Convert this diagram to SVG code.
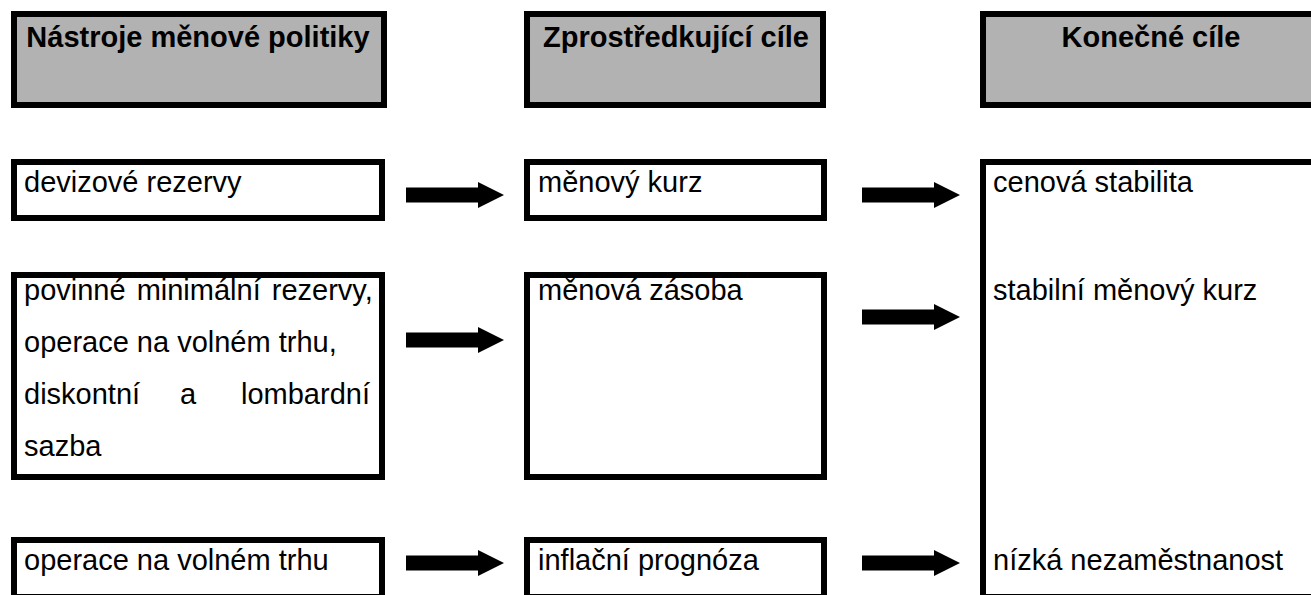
<svg xmlns="http://www.w3.org/2000/svg" xmlns:xlink="http://www.w3.org/1999/xlink" width="1311" height="595" viewBox="0 0 1311 595">
<style>
.hdr{fill:#b2b2b2;stroke:#000;stroke-width:6}
.box{fill:#fff;stroke:#000;stroke-width:6}
.ht{font-family:"Liberation Sans",Arial,sans-serif;font-weight:bold;font-size:29px;fill:#000;text-anchor:middle}
.t{font-family:"Liberation Sans",Arial,sans-serif;font-size:29px;fill:#000}
</style>
<defs>
<path id="arr" d="M0,-7.5 H72 V-13 L98,0 L72,13 V7.5 H0 Z" fill="#000"/>
</defs>
<rect width="1311" height="595" fill="#fff"/>
<g id="h1"><rect class="hdr" x="14" y="14" width="370" height="91"/><text class="ht" x="198" y="47">Nástroje měnové politiky</text></g>
<g id="h2"><rect class="hdr" x="527" y="14" width="296" height="91"/><text class="ht" x="676" y="47">Zprostředkující cíle</text></g>
<g id="h3"><rect class="hdr" x="983" y="14" width="336" height="91"/><text class="ht" x="1151" y="47">Konečné cíle</text></g>
<g id="n11"><rect class="box" x="14" y="162" width="368" height="56"/><text class="t" x="24" y="192">devizové rezervy</text></g>
<g id="n12"><rect class="box" x="527" y="162" width="297" height="56"/><text class="t" x="538" y="192">měnový kurz</text></g>
<g id="n3"><rect class="box" x="983" y="162" width="336" height="435"/><text class="t" x="993" y="192">cenová stabilita</text><text class="t" x="993" y="300">stabilní měnový kurz</text><text class="t" x="993" y="570">nízká nezaměstnanost</text></g>
<g id="n21"><rect class="box" x="14" y="275" width="368" height="202"/><text class="t" x="24" y="300" word-spacing="3">povinné minimální rezervy,</text><text class="t" x="24" y="352">operace na volném trhu,</text><text class="t" y="404"><tspan x="24">diskontní</tspan><tspan x="180">a</tspan><tspan x="241">lombardní</tspan></text><text class="t" x="24" y="456">sazba</text></g>
<g id="n22"><rect class="box" x="527" y="275" width="297" height="202"/><text class="t" x="538" y="300">měnová zásoba</text></g>
<g id="n31"><rect class="box" x="14" y="540" width="368" height="57"/><text class="t" x="24" y="570">operace na volném trhu</text></g>
<g id="n32"><rect class="box" x="527" y="540" width="297" height="57"/><text class="t" x="538" y="570">inflační prognóza</text></g>
<g id="connectors">
<use xlink:href="#arr" x="406" y="195"/>
<use xlink:href="#arr" x="862" y="195"/>
<use xlink:href="#arr" x="406" y="340"/>
<use xlink:href="#arr" x="862" y="317"/>
<use xlink:href="#arr" x="406" y="563"/>
<use xlink:href="#arr" x="862" y="563"/>
</g>
</svg>
